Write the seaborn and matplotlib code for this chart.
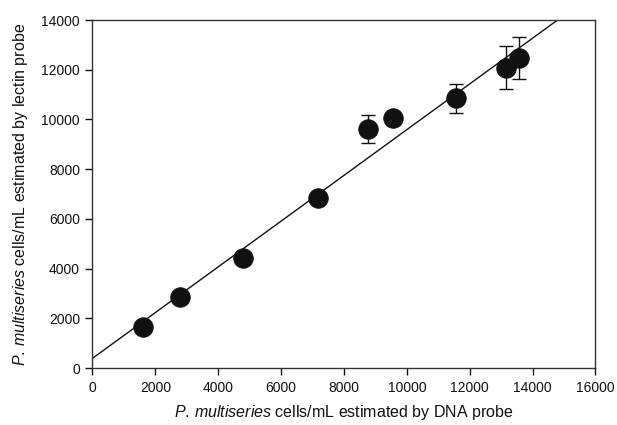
import numpy as np
import pandas as pd
import matplotlib
matplotlib.use("Agg")
import matplotlib.pyplot as plt
import seaborn as sns

# Data
dna_probe = [1600, 2780, 4780, 7170, 8780, 9560, 11560, 13150, 13560]
lectin_probe = [1640, 2840, 4440, 6850, 9620, 10040, 10850, 12080, 12480]
lectin_err = [120, 120, 180, 170, 560, 260, 580, 860, 850]
fit_intercept = 390
fit_slope = 0.92
x_ticks = [0, 2000, 4000, 6000, 8000, 10000, 12000, 14000, 16000]
y_ticks = [0, 2000, 4000, 6000, 8000, 10000, 12000, 14000]

df = pd.DataFrame({"dna": dna_probe, "lectin": lectin_probe, "err": lectin_err})

sns.set_theme(style="ticks")
plt.rcParams["font.family"] = ["Liberation Sans", "DejaVu Sans"]
plt.rcParams["mathtext.fontset"] = "custom"
plt.rcParams["mathtext.rm"] = "Liberation Sans"
plt.rcParams["mathtext.it"] = "Liberation Sans:italic"

fig = plt.figure(figsize=(6.17, 4.25), dpi=100)
ax = fig.add_axes([0.1499, 0.1341, 0.8152, 0.8188])

# regression line
fx = np.array([0.0, 16000.0])
fy = fit_intercept + fit_slope * fx
ax.plot(fx, fy, color="#111111", lw=1.0, zorder=1)

ax.errorbar(df["dna"], df["lectin"], yerr=df["err"], fmt="none",
            ecolor="#111111", elinewidth=1.0, capsize=5, capthick=1.0, zorder=2)
sns.scatterplot(data=df, x="dna", y="lectin", ax=ax, s=200, color="#111111",
                edgecolor="#111111", linewidth=0.5, zorder=3, legend=False)

ax.set_xlim(0, 16000)
ax.set_ylim(0, 14000)
ax.set_xticks(x_ticks)
ax.set_yticks(y_ticks)
ax.set_xticklabels([str(v) for v in x_ticks])
ax.set_yticklabels([str(v) for v in y_ticks])
ax.tick_params(axis="both", direction="out", length=5, width=1, labelsize=10,
               colors="#111111", pad=4)
for sp in ax.spines.values():
    sp.set_color("#333333")
    sp.set_linewidth(1.0)

ax.set_xlabel(r"$\it{P.\,multiseries}$ cells/mL estimated by DNA probe",
              fontsize=11.5, color="#111111", labelpad=6)
ax.set_ylabel(r"$\it{P.\,multiseries}$ cells/mL estimated by lectin probe",
              fontsize=11.5, color="#111111", labelpad=8)

fig.savefig("out.png", dpi=100)
